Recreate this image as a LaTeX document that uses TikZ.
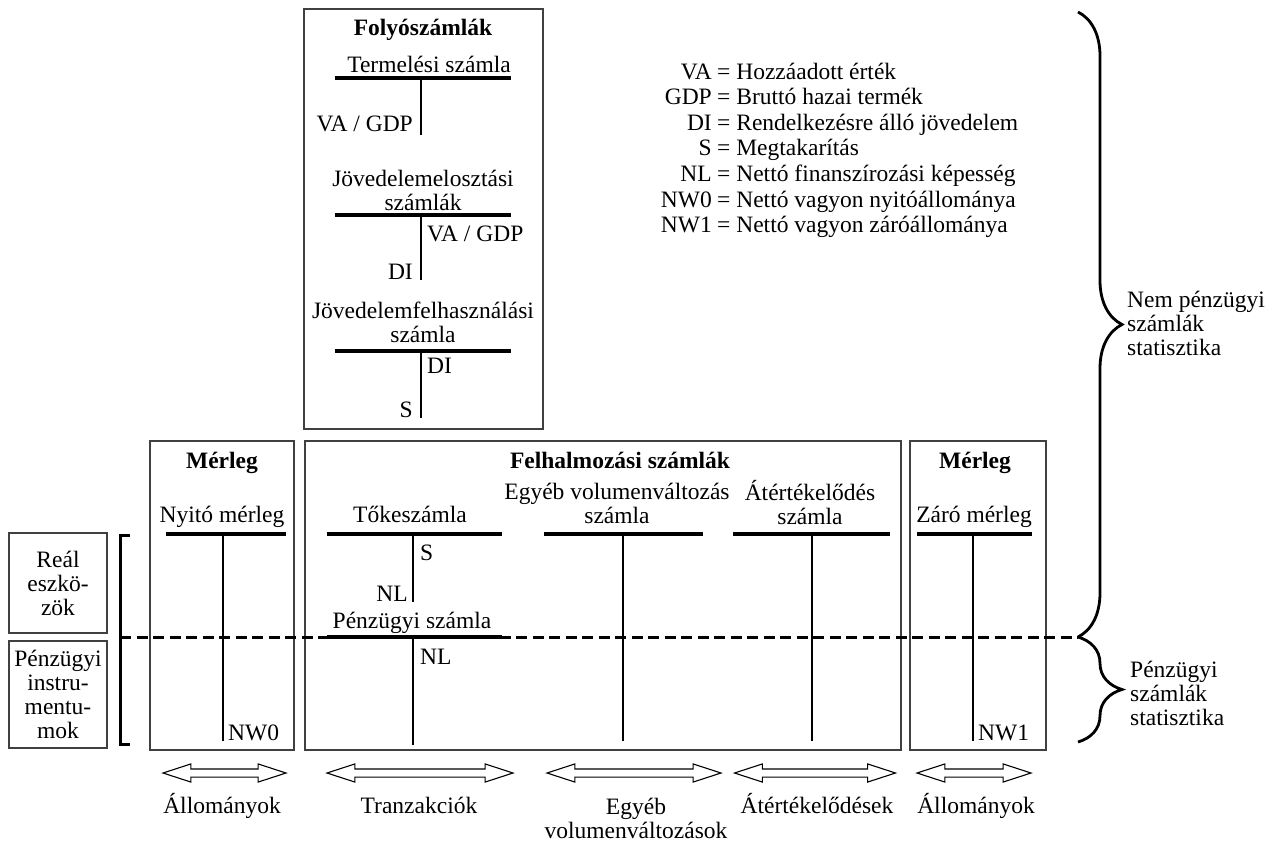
\documentclass[tikz,border=0pt]{standalone}
\usepackage{fontspec}
\setmainfont{Liberation Serif}
\usetikzlibrary{shapes.arrows,decorations.pathreplacing}
\tikzset{
  box/.style={draw=black!75,line width=1.4pt},
  tline/.style={line width=3.2pt},
  vline/.style={line width=2.6pt},
  lbl/.style={inner sep=0pt,anchor=base},
  mlbl/.style={inner sep=0pt,align=center},
  flow/.style={draw,line width=1.1pt,double arrow,double arrow tip angle=36,
    double arrow head extend=5pt,minimum width=17pt,inner xsep=0pt,inner ysep=3.5pt},
  brc/.style={decorate,decoration={brace,amplitude=44pt},line width=2.8pt},
}
\begin{document}
\begin{tikzpicture}[x=1pt,y=-1pt,font=\fontsize{23.5pt}{24pt}\selectfont]
\useasboundingbox (0,0) rectangle (1272,841);
% Folyoszamlak
\draw[box] (304,9) rectangle (543,429);
\node[lbl] (folyo) at (423,35) {\bfseries Folyószámlák};
\node[lbl] (termel) at (429,72) {Termelési számla};
\draw[tline] (335,78) -- (511,78);
\draw[vline] (421,78) -- (421,135);
\node[lbl,anchor=base east] (termva) at (413,131) {VA / GDP};
\node[mlbl] (eloszt) at (423,190) {Jövedelemelosztási\\számlák};
\draw[tline] (335,215) -- (511,215);
\draw[vline] (421,215) -- (421,280);
\node[lbl,anchor=base west] (elva) at (427,241) {VA / GDP};
\node[lbl,anchor=base east] (eldi) at (413,279) {DI};
\node[mlbl] (felh) at (423,322) {Jövedelemfelhasználási\\számla};
\draw[tline] (335,351) -- (511,351);
\draw[vline] (421,351) -- (421,418);
\node[lbl,anchor=base west] (fedi) at (427,373) {DI};
\node[lbl,anchor=base east] (fes) at (413,417) {S};
% jelmagyarazat
\foreach \k/\v [count=\i from 0] in {VA/Hozzáadott érték,GDP/Bruttó hazai termék,
  DI/Rendelkezésre álló jövedelem,S/Megtakarítás,NL/Nettó finanszírozási képesség,
  NW0/Nettó vagyon nyitóállománya,NW1/Nettó vagyon záróállománya}{
  \node[lbl,anchor=base east] (key\i) at (712,79+25.6*\i) {\k};
  \node[lbl,anchor=base west] (val\i) at (717,79+25.6*\i) {= \v};
}
% merleg es felhalmozasi szamlak
\draw[box] (150,441) rectangle (294,750);
\draw[box] (305,441) rectangle (901,750);
\draw[box] (910,441) rectangle (1046,750);
\node[lbl] (merl0) at (222,468) {\bfseries Mérleg};
\node[lbl] (felhalm) at (620,468) {\bfseries Felhalmozási számlák};
\node[lbl] (merl1) at (975,468) {\bfseries Mérleg};
\node[lbl] (nyito) at (222,522) {Nyitó mérleg};
\node[lbl] (toke) at (410,522) {Tőkeszámla};
\node[mlbl] (egyeb) at (617,503) {Egyéb volumenváltozás\\számla};
\node[mlbl] (atert) at (810,503) {Átértékelődés\\számla};
\node[lbl] (zaro) at (974,522) {Záró mérleg};
% szaggatott vonal
\draw[line width=3pt,dash pattern=on 11pt off 5.5pt] (120,637) -- (1078,637);
\foreach \a/\b in {166/286,327/502,544/703,733/890,917/1032}
  \draw[tline] (\a,534) -- (\b,534);
\foreach \x in {223,623,812,973}
  \draw[vline] (\x,534) -- (\x,741);
\draw[vline] (413,534) -- (413,602);
\node[lbl,anchor=base west] (tokes) at (420,560) {S};
\node[lbl,anchor=base east] (tokenl) at (408,601) {NL};
\node[lbl] (penzsz) at (412,628) {Pénzügyi számla};
\draw[tline] (327,637) -- (502,637);
\draw[vline] (413,637) -- (413,745);
\node[lbl,anchor=base west] (penznl) at (420,664) {NL};
\node[lbl,anchor=base west] (nw0) at (228,740) {NW0};
\node[lbl,anchor=base west] (nw1) at (978,740) {NW1};
% bal oldali dobozok
\node[box,mlbl,minimum width=98pt,minimum height=100pt] (real) at (58,583) {Reál\\eszkö-\\zök};
\node[box,mlbl,minimum width=98pt,minimum height=107pt] (penzinstr) at (58,694.5) {Pénzügyi\\instru-\\mentu-\\mok};
\draw[line width=3pt] (130,535) -- (120,535) -- (120,744) -- (130,744);
% kapcsos zarojelek
\draw[brc] (1078,12) -- (1078,637);
\draw[brc] (1078,637) -- (1078,742);
\node[mlbl,align=left,anchor=west] (nempenz) at (1127,323) {Nem pénzügyi\\számlák\\statisztika};
\node[mlbl,align=left,anchor=west] (penzstat) at (1130,693) {Pénzügyi\\számlák\\statisztika};
% nyilak
\foreach \c/\l/\n in {224.5/123/all0,420/186/tran,634/174/egyv,815/161/atv,974/114/all1}
  \node[flow,minimum height=\l pt] (\n) at (\c,773) {};
\node[lbl] (all0lbl) at (222,813) {Állományok};
\node[lbl] (tranlbl) at (419,813) {Tranzakciók};
\node[mlbl] (egyvlbl) at (636,818) {Egyéb\\volumenváltozások};
\node[lbl] (atvlbl) at (817,813) {Átértékelődések};
\node[lbl] (all1lbl) at (976,813) {Állományok};
\end{tikzpicture}
\end{document}
